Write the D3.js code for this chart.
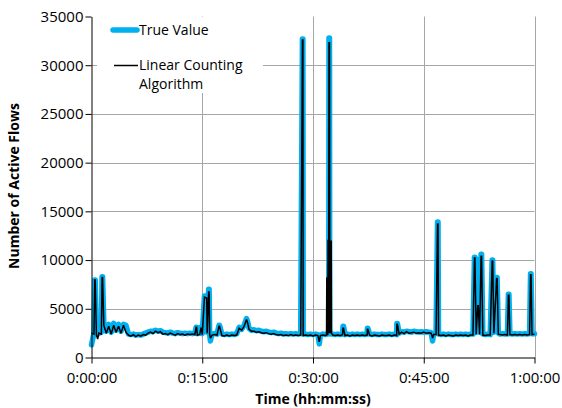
<!DOCTYPE html>
<html>
<head>
<meta charset="utf-8">
<script src="https://cdn.jsdelivr.net/npm/d3@7"></script>
<style>
  html, body { margin: 0; padding: 0; background: #fff; }
  svg { display: block; font-family: "Open Sans", "Noto Sans", sans-serif; }
</style>
</head>
<body>
<svg id="chart" width="562" height="408"></svg>
<script>
// Sample times in seconds from the start of the capture
const seconds = [
  0, 20, 26, 30, 40, 50, 60, 80, 86, 90,
  100, 120, 140, 160, 180, 200, 220, 240, 260, 280,
  300, 320, 340, 360, 380, 400, 420, 440, 460, 480,
  500, 520, 540, 560, 580, 600, 620, 640, 660, 680,
  700, 720, 740, 760, 780, 800, 820, 840, 850, 854,
  860, 880, 889, 893, 900, 918, 936, 940, 952, 956,
  960, 966, 980, 1000, 1020, 1036, 1040, 1060, 1080, 1100,
  1120, 1140, 1160, 1180, 1200, 1220, 1240, 1260, 1270, 1280,
  1300, 1320, 1340, 1360, 1380, 1400, 1420, 1440, 1460, 1480,
  1500, 1520, 1540, 1560, 1580, 1600, 1620, 1640, 1660, 1680,
  1700, 1714, 1718, 1720, 1740, 1760, 1780, 1800, 1820, 1840,
  1851, 1860, 1880, 1900, 1910, 1912, 1914, 1920, 1922, 1924,
  1926, 1928, 1930, 1934, 1936, 1938, 1940, 1942, 1944, 1946,
  1948, 1950, 1960, 1980, 2000, 2020, 2040, 2044, 2048, 2060,
  2080, 2100, 2120, 2140, 2160, 2180, 2200, 2220, 2240, 2242,
  2246, 2260, 2280, 2300, 2320, 2340, 2360, 2380, 2400, 2420,
  2440, 2460, 2480, 2482, 2486, 2500, 2520, 2540, 2560, 2580,
  2600, 2620, 2640, 2660, 2680, 2700, 2720, 2740, 2760, 2772,
  2780, 2800, 2812, 2816, 2820, 2840, 2860, 2880, 2900, 2920,
  2940, 2960, 2980, 3000, 3020, 3040, 3060, 3080, 3100, 3112,
  3116, 3126, 3139, 3143, 3154, 3166, 3170, 3180, 3200, 3220,
  3240, 3256, 3260, 3270, 3292, 3296, 3306, 3320, 3340, 3360,
  3380, 3388, 3392, 3400, 3420, 3440, 3460, 3480, 3500, 3520,
  3540, 3560, 3568, 3572, 3580, 3600
];

// Measured number of active flows
const trueValue = [
  1300, 2500, 7950, 7950, 2600, 2400, 2500, 2600, 8300, 8300,
  3400, 2700, 3400, 2600, 3500, 2800, 3400, 2700, 3400, 3300,
  2400, 2350, 2400, 2300, 2350, 2300, 2400, 2500, 2600, 2700,
  2650, 2800, 2700, 2750, 2600, 2550, 2500, 2600, 2500, 2450,
  2550, 2500, 2450, 2500, 2450, 2500, 2450, 2500, 3100, 3100,
  2450, 2500, 3100, 3100, 2450, 6300, 6300, 2600, 7000, 7000,
  2500, 1700, 2400, 2450, 2400, 3300, 3300, 2400, 2350, 2400,
  2350, 2400, 2350, 2450, 3100, 2900, 3300, 4000, 3600, 3000,
  2800, 2850, 2750, 2800, 2700, 2650, 2700, 2600, 2550, 2600,
  2500, 2450, 2500, 2400, 2450, 2400, 2450, 2400, 2450, 2400,
  2450, 32700, 32700, 2400, 2400, 2350, 2400, 2350, 2400, 2350,
  1400, 2300, 2400, 2350, 2400, 2400, 2400, 2400, 2450, 2500,
  2600, 2800, 32800, 32800, 2800, 2600, 2500, 2450, 2400, 2400,
  2400, 2400, 2400, 2350, 2400, 2350, 2400, 3200, 3200, 2350,
  2400, 2350, 2400, 2350, 2400, 2350, 2400, 2350, 2400, 3000,
  3000, 2400, 2350, 2400, 2350, 2350, 2400, 2350, 2350, 2400,
  2350, 2400, 2350, 3500, 3500, 2500, 2650, 2600, 2700, 2650,
  2600, 2700, 2650, 2600, 2650, 2600, 2650, 2600, 2550, 1700,
  2400, 2450, 13900, 13900, 2400, 2350, 2400, 2350, 2400, 2350,
  2350, 2400, 2350, 2400, 2350, 2400, 2350, 2400, 2400, 10300,
  10300, 2600, 10000, 10000, 2600, 10600, 10600, 2400, 2350, 2400,
  2350, 10000, 10000, 2600, 8200, 8200, 2500, 2400, 2450, 2400,
  2400, 6500, 6500, 2450, 2400, 2450, 2400, 2450, 2400, 2450,
  2400, 2450, 8600, 8600, 2450, 2450
];

// Linear counting estimate of active flows
const linearCounting = [
  2500, 2400, 7950, 7950, 2300, 1900, 2500, 2400, 8200, 8200,
  3300, 2500, 3200, 2400, 3300, 2600, 3200, 2500, 3300, 2600,
  2300, 2200, 2350, 2150, 2300, 2200, 2350, 2300, 2500, 2600,
  2450, 2700, 2550, 2650, 2400, 2450, 2350, 2500, 2400, 2300,
  2450, 2350, 2400, 2300, 2400, 2350, 2400, 2350, 3100, 3100,
  2300, 2400, 3000, 3000, 2350, 6200, 6100, 2500, 6800, 6700,
  2400, 2000, 2300, 2350, 2300, 3200, 3200, 2250, 2200, 2300,
  2200, 2300, 2250, 2300, 3000, 2800, 3200, 3900, 3500, 2900,
  2700, 2700, 2600, 2650, 2550, 2500, 2550, 2450, 2400, 2450,
  2350, 2300, 2350, 2250, 2300, 2250, 2350, 2250, 2300, 2250,
  2300, 32600, 32600, 2250, 2300, 2250, 2300, 2200, 2300, 2250,
  1600, 2250, 2300, 2250, 2300, 8200, 2400, 2300, 12000, 12000,
  2500, 12000, 32300, 32300, 12000, 2500, 12000, 2500, 12000, 2500,
  12000, 2500, 2300, 2250, 2300, 2250, 2350, 3000, 3000, 2250,
  2300, 2200, 2300, 2250, 2300, 2250, 2300, 2250, 2300, 2900,
  2900, 2300, 2200, 2300, 2250, 2200, 2300, 2250, 2250, 2300,
  2200, 2300, 2250, 3400, 3400, 2400, 2600, 2450, 2650, 2500,
  2550, 2600, 2500, 2550, 2500, 2600, 2500, 2550, 2500, 2000,
  2350, 2350, 13700, 13700, 2300, 2250, 2300, 2200, 2300, 2250,
  2200, 2300, 2250, 2300, 2250, 2300, 2200, 2300, 2300, 10200,
  10200, 2400, 5300, 5300, 2400, 10400, 10400, 2300, 2250, 2300,
  2300, 9900, 9900, 2500, 8100, 8100, 2400, 2350, 2300, 2350,
  2300, 6400, 6400, 2350, 2300, 2350, 2300, 2350, 2300, 2350,
  2300, 2350, 8500, 8500, 2350, 2400
];

const yTicks = [0, 5000, 10000, 15000, 20000, 25000, 30000, 35000];
const xTicks = [0, 900, 1800, 2700, 3600];
const xTickLabels = ["0:00:00", "0:15:00", "0:30:00", "0:45:00", "1:00:00"];
const seriesNames = ["True Value", "Linear Counting", "Algorithm"];

const svg = d3.select("#chart");
const plot = { left: 91.5, right: 534.5, top: 16.5, bottom: 357.5 };

const x = d3.scaleLinear().domain([0, 3600]).range([plot.left, plot.right]);
const y = d3.scaleLinear().domain([0, 35000]).range([plot.bottom, plot.top]);

const points = seconds.map((t, i) => ({ t, tv: trueValue[i], lc: linearCounting[i] }));

// Gridlines
const grid = svg.append("g").attr("stroke", "#a6a6a6").attr("stroke-width", 1);
grid.selectAll("line.h").data(yTicks.filter(v => v > 0 && v < 35000)).join("line")
  .attr("class", "h")
  .attr("x1", plot.left).attr("x2", plot.right)
  .attr("y1", d => Math.round(y(d)) + 0.5).attr("y2", d => Math.round(y(d)) + 0.5);
grid.selectAll("line.v").data(xTicks.filter(v => v > 0)).join("line")
  .attr("class", "v")
  .attr("x1", d => Math.round(x(d)) + 0.5).attr("x2", d => Math.round(x(d)) + 0.5)
  .attr("y1", plot.top).attr("y2", plot.bottom);

// Legend background sits over the gridlines
const legend = svg.append("g");
legend.append("rect")
  .attr("x", 97).attr("y", 17).attr("width", 166).attr("height", 76)
  .attr("fill", "#fff");

// Series
const lineTrue = d3.line().x(d => x(d.t)).y(d => y(d.tv));
const lineLc = d3.line().x(d => x(d.t)).y(d => y(d.lc));

svg.append("path").datum(points)
  .attr("d", lineTrue)
  .attr("fill", "none")
  .attr("stroke", "#00b0f0")
  .attr("stroke-width", 5.5)
  .attr("stroke-linejoin", "round")
  .attr("stroke-linecap", "round");

svg.append("path").datum(points)
  .attr("d", lineLc)
  .attr("fill", "none")
  .attr("stroke", "#000")
  .attr("stroke-width", 1.5)
  .attr("stroke-linejoin", "miter")
  .attr("stroke-miterlimit", 2);

// Axes
const yAxis = d3.axisLeft(y).tickValues(yTicks).tickSize(6).tickSizeOuter(0).tickPadding(2)
  .tickFormat(d3.format("d"));
const xAxis = d3.axisBottom(x).tickValues(xTicks).tickSize(6).tickSizeOuter(0).tickPadding(9)
  .tickFormat((d, i) => xTickLabels[i]);

const gy = svg.append("g").attr("transform", `translate(${plot.left},0)`).call(yAxis);
const gx = svg.append("g").attr("transform", `translate(0,${plot.bottom})`).call(xAxis);
[gx, gy].forEach(g => {
  g.select(".domain").attr("stroke", "#000");
  g.selectAll(".tick line").attr("stroke", "#000");
  g.selectAll(".tick text").attr("fill", "#000").attr("font-size", 15)
    .attr("font-family", "'Open Sans', sans-serif");
});

// Axis titles
svg.append("text")
  .attr("x", 313).attr("y", 404)
  .attr("text-anchor", "middle")
  .attr("font-weight", "bold").attr("font-size", 14)
  .text("Time (hh:mm:ss)");
svg.append("text")
  .attr("transform", "translate(19,186) rotate(-90)")
  .attr("text-anchor", "middle")
  .attr("font-weight", "bold").attr("font-size", 14)
  .text("Number of Active Flows");

// Legend entries
legend.append("line")
  .attr("x1", 113).attr("x2", 137).attr("y1", 30).attr("y2", 30)
  .attr("stroke", "#00b0f0").attr("stroke-width", 5.5).attr("stroke-linecap", "round");
legend.append("text").attr("x", 139).attr("y", 35).attr("font-size", 14).text(seriesNames[0]);
legend.append("line")
  .attr("x1", 114).attr("x2", 138).attr("y1", 65.5).attr("y2", 65.5)
  .attr("stroke", "#000").attr("stroke-width", 1.5);
legend.append("text").attr("x", 139).attr("y", 70).attr("font-size", 14).text(seriesNames[1]);
legend.append("text").attr("x", 139).attr("y", 89).attr("font-size", 14).text(seriesNames[2]);
</script>
</body>
</html>
